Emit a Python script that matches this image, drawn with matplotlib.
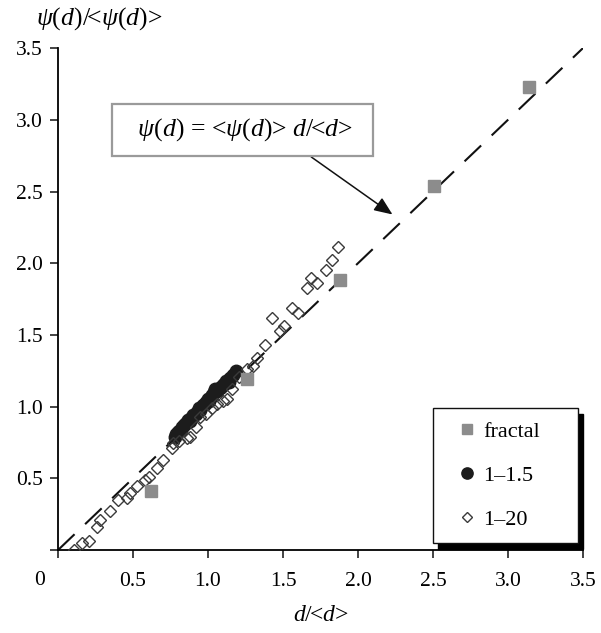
import matplotlib
matplotlib.use('Agg')
import matplotlib.pyplot as plt
import numpy as np

plt.rcParams['font.family'] = ['Liberation Serif', 'DejaVu Serif']
plt.rcParams['mathtext.fontset'] = 'custom'
plt.rcParams['mathtext.rm'] = 'Liberation Serif'
plt.rcParams['mathtext.it'] = 'Liberation Serif:italic'

# fractal (gray squares)
fractal_x = [0.62, 1.26, 1.88, 2.51, 3.14]
fractal_y = [0.41, 1.19, 1.88, 2.54, 3.23]

# 1-1.5 (black circles)
c15_x = [0.78, 0.79, 0.80, 0.81, 0.82, 0.83, 0.84, 0.85, 0.86, 0.87,
         0.88, 0.89, 0.90, 0.92, 0.93, 0.94, 0.95, 0.97, 0.98, 0.99,
         1.00, 1.01, 1.02, 1.03, 1.04, 1.05, 1.06, 1.08, 1.09, 1.10,
         1.11, 1.12, 1.14, 1.15, 1.17, 1.19]
c15_y = [0.79, 0.81, 0.82, 0.83, 0.84, 0.86, 0.87, 0.88, 0.89, 0.91,
         0.90, 0.92, 0.94, 0.95, 0.96, 0.99, 0.98, 1.01, 1.02, 1.03,
         1.05, 1.04, 1.07, 1.08, 1.10, 1.12, 1.11, 1.13, 1.14, 1.15,
         1.16, 1.18, 1.17, 1.20, 1.22, 1.25]

# 1-20 (open diamonds)
c20_x = [0.11, 0.16, 0.21, 0.26, 0.28, 0.35, 0.40, 0.46, 0.48, 0.53,
         0.58, 0.61, 0.66, 0.70, 0.76, 0.77, 0.81, 0.86, 0.88, 0.92,
         0.95, 0.99, 1.03, 1.06, 1.10, 1.13, 1.16, 1.21, 1.26, 1.30,
         1.33, 1.38, 1.43, 1.48, 1.51, 1.56, 1.60, 1.66, 1.69, 1.73,
         1.79, 1.83, 1.87]
c20_y = [0.00, 0.05, 0.06, 0.16, 0.21, 0.27, 0.35, 0.36, 0.40, 0.45,
         0.49, 0.51, 0.57, 0.63, 0.71, 0.75, 0.76, 0.78, 0.79, 0.86,
         0.93, 0.95, 0.99, 1.02, 1.04, 1.05, 1.12, 1.21, 1.26, 1.28,
         1.34, 1.43, 1.62, 1.53, 1.56, 1.69, 1.65, 1.83, 1.90, 1.86,
         1.95, 2.02, 2.11]

fit_x = [0.0, 3.5]
ticks = [0, 0.5, 1.0, 1.5, 2.0, 2.5, 3.0, 3.5]

fig = plt.figure(figsize=(6.01, 6.33), dpi=100)
ax = fig.add_axes([0.0965, 0.131, 0.8735, 0.793])

ax.plot(fit_x, fit_x, color='#111111', lw=1.5, dashes=(11, 7), zorder=1)
ax.plot(c15_x, c15_y, 'o', ms=9, color='#1c1c1c', mec='#1c1c1c', label='1\u20131.5', zorder=2)
ax.plot(c20_x, c20_y, 'D', ms=6, mfc='none', mec='#3a3a3a', mew=1.0, label='1\u201320', zorder=3)
ax.plot(fractal_x, fractal_y, 's', ms=8.5, color='#8c8c8c', label='fractal', zorder=4)

ax.set_xlim(0, 3.5)
ax.set_ylim(0, 3.5)
ax.spines['top'].set_visible(False)
ax.spines['right'].set_visible(False)
ax.spines['left'].set_linewidth(1.3)
ax.spines['bottom'].set_linewidth(1.3)

ax.set_xticks(ticks)
ax.set_xticklabels([''] + ['%.1f' % t for t in ticks[1:]])
ax.set_yticks(ticks)
ax.set_yticklabels([''] + ['%.1f' % t for t in ticks[1:]])
ax.tick_params(direction='out', length=6, width=1.1, labelsize=15.5, color='#111111')
ax.tick_params(axis='x', pad=10)
ax.tick_params(axis='y', pad=5)
ax.text(-0.12, -0.215, '0', fontsize=15.5, ha='center', va='center')

ax.set_xlabel(r'$d$/<$d$>', fontsize=17, labelpad=10)
fig.text(0.165, 0.971, r'$\psi$($d$)/<$\psi$($d$)>', fontsize=18.5, ha='center', va='center')

ax.annotate(r'  $\psi$($d$) = <$\psi$($d$)> $d$/<$d$>  ', xy=(2.23, 2.34), xytext=(1.23, 2.93),
            fontsize=18.5, ha='center', va='center',
            bbox=dict(boxstyle='square,pad=0.5', fc='white', ec='#9a9a9a', lw=1.6),
            arrowprops=dict(arrowstyle='-|>,head_length=0.6,head_width=0.25', color='#111111',
                            lw=1.1, shrinkA=0, shrinkB=0, relpos=(0.71, 0.0)))

handles, labels = ax.get_legend_handles_labels()
order = [2, 0, 1]
leg = ax.legend([handles[i] for i in order], [labels[i] for i in order],
                loc='lower left', bbox_to_anchor=(0.714, 0.014, 0.276, 0.275), mode='expand',
                borderaxespad=0, fontsize=16, labelspacing=1.05, borderpad=0.6,
                handlelength=1.9, handletextpad=-0.25, fancybox=False, markerscale=0.9,
                shadow={'ox': 4, 'oy': -4, 'color': 'black', 'alpha': 1})
leg.get_frame().set_edgecolor('#111111')
leg.get_frame().set_linewidth(1.0)

fig.savefig('out.png', dpi=100)
